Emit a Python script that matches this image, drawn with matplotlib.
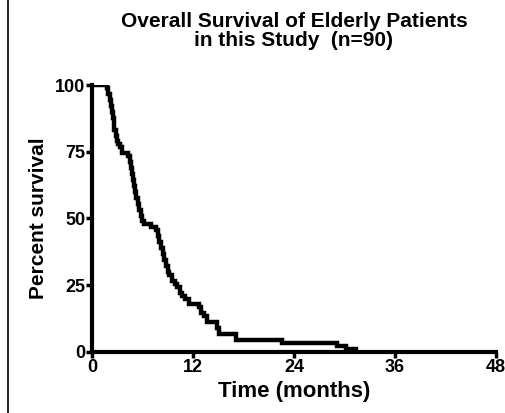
import matplotlib.pyplot as plt
from matplotlib.lines import Line2D

# step points of the Kaplan-Meier curve
months = [0, 1.8, 1.95, 2.1, 2.25, 2.35, 2.45, 2.55, 2.65, 2.8, 2.95, 3.1, 3.3, 3.6,
          4.3, 4.45, 4.6, 4.75, 4.85, 5.0, 5.1, 5.25, 5.4, 5.6, 5.8, 5.95, 6.2, 7.0,
          7.6, 7.8, 8.0, 8.2, 8.4, 8.6, 8.8, 9.0, 9.2, 9.5, 9.8, 10.1, 10.4, 10.7,
          11.0, 11.5, 12.7, 12.9, 13.3, 13.7, 14.9, 15.1, 17.1, 22.6, 29.1, 30.2, 31.4]
survival = [100, 98.9, 96.7, 94.4, 92.2, 90.0, 87.8, 85.6, 83.3, 81.1, 78.9, 77.8, 76.7, 74.4,
            73.3, 71.1, 68.9, 66.7, 64.4, 62.2, 60.0, 57.8, 55.6, 53.3, 51.1, 48.9, 47.8, 46.7,
            45.6, 43.3, 41.1, 38.9, 36.7, 34.4, 32.2, 30.0, 28.9, 26.7, 25.6, 24.4, 22.2, 21.1,
            20.0, 17.8, 16.7, 14.4, 13.3, 11.1, 8.9, 6.7, 4.4, 3.3, 2.2, 1.1, 0]
x_ticks = [0, 12, 24, 36, 48]
y_ticks = [0, 25, 50, 75, 100]

plt.rcParams['font.family'] = ['Liberation Sans', 'DejaVu Sans']
plt.rcParams['font.weight'] = 'bold'

fig = plt.figure(figsize=(5.06, 4.13), dpi=100)
ax = fig.add_axes([0.182, 0.148, 0.798, 0.646])

ax.step(months, survival, where='post', color='black', linewidth=3.2, solid_joinstyle='miter')

ax.set_xlim(0, 48)
ax.set_ylim(0, 100)
ax.set_xticks(x_ticks)
ax.set_yticks(y_ticks)
ax.tick_params(direction='out', length=4, width=2.5, labelsize=13, pad=1)
for lab in ax.get_xticklabels() + ax.get_yticklabels():
    lab.set_fontweight('bold')
for s in ['top', 'right']:
    ax.spines[s].set_visible(False)
for s in ['left', 'bottom']:
    ax.spines[s].set_linewidth(3)

ax.set_xlabel('Time (months)', fontsize=16, fontweight='bold', labelpad=4)
ax.set_ylabel('Percent survival', fontsize=15, fontweight='bold', labelpad=5)
ax.set_title('Overall Survival of Elderly Patients\nin this Study  (n=90)',
             fontsize=15, fontweight='bold', pad=28, linespacing=1.0)

# thin frame line at the left edge of the picture
fig.add_artist(Line2D([0.016, 0.016], [0, 1], transform=fig.transFigure, color='black', linewidth=1.2))

fig.savefig('out.png', dpi=100)
